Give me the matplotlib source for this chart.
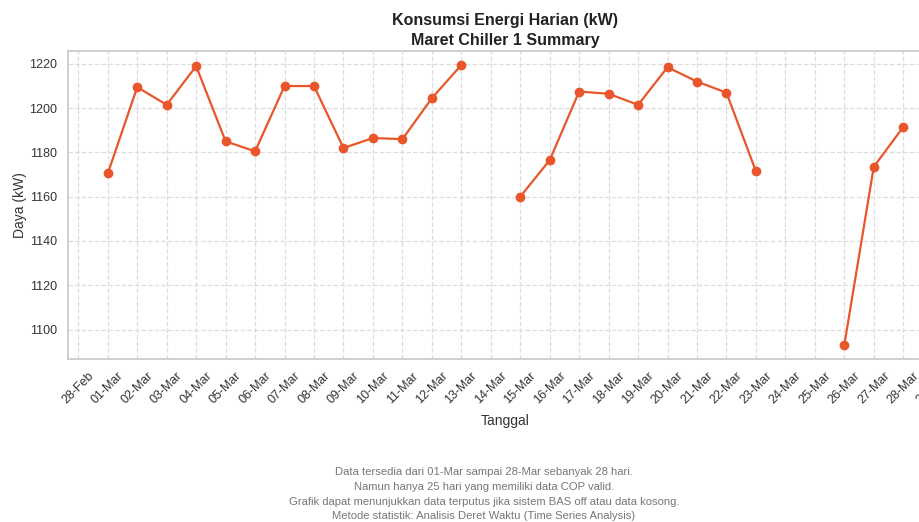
import numpy as np
import pandas as pd
import matplotlib
matplotlib.use("Agg")
import matplotlib.pyplot as plt
import matplotlib.dates as mdates

plt.rcParams['font.family'] = ['Liberation Sans', 'DejaVu Sans']

# daily energy, March (NaN = no data)
dates = pd.date_range("2025-03-01", "2025-03-28", freq="D")
daya = [1170.5, 1209.5, 1201.5, 1219.0, 1185.0, 1180.5, 1210.0, 1210.0,
        1182.0, 1186.5, 1186.0, 1204.5, 1219.5, np.nan, 1160.0, 1176.5,
        1207.5, 1206.5, 1201.5, 1218.5, 1212.0, 1207.0, 1171.5, np.nan,
        np.nan, 1093.0, 1173.5, 1191.5]
y_ticks = [1100, 1120, 1140, 1160, 1180, 1200, 1220]

footer = ("Data tersedia dari 01-Mar sampai 28-Mar sebanyak 28 hari.\n"
          "Namun hanya 25 hari yang memiliki data COP valid.\n"
          "Grafik dapat menunjukkan data terputus jika sistem BAS off atau data kosong.\n"
          "Metode statistik: Analisis Deret Waktu (Time Series Analysis)")

fig = plt.figure(figsize=(9.2, 5.22), dpi=100)
ax = fig.add_axes([68 / 920, 1 - 359 / 522, 875 / 920, 308 / 522])

ax.plot(dates, daya, color='#e8562a', linewidth=1.6, marker='o', markersize=6)

ax.set_yticks(y_ticks)
ax.xaxis.set_major_locator(mdates.DayLocator())
ax.xaxis.set_major_formatter(mdates.DateFormatter('%d-%b'))
plt.setp(ax.get_xticklabels(), rotation=45)

ax.grid(True, linestyle='--', color='#dddddd', linewidth=0.9)
ax.set_axisbelow(True)
for s in ax.spines.values():
    s.set_color('#cccccc')
    s.set_linewidth(1.3)
ax.tick_params(axis='both', length=0, labelsize=9, labelcolor='#333333')
ax.tick_params(axis='y', pad=8)
ax.tick_params(axis='x', pad=8)

ax.set_title('Konsumsi Energi Harian (kW)\nMaret Chiller 1 Summary',
             fontsize=11.5, fontweight='bold', color='#222222', pad=4, linespacing=1.45)
ax.set_xlabel('Tanggal', fontsize=10, color='#333333', labelpad=5)
ax.set_ylabel('Daya (kW)', fontsize=10, color='#333333', labelpad=1)

fig.text(484 / 920, 1 - 467 / 522, footer, ha='center', va='top',
         fontsize=8.1, color='#777777', linespacing=1.6)

fig.savefig('out.png', dpi=100)
